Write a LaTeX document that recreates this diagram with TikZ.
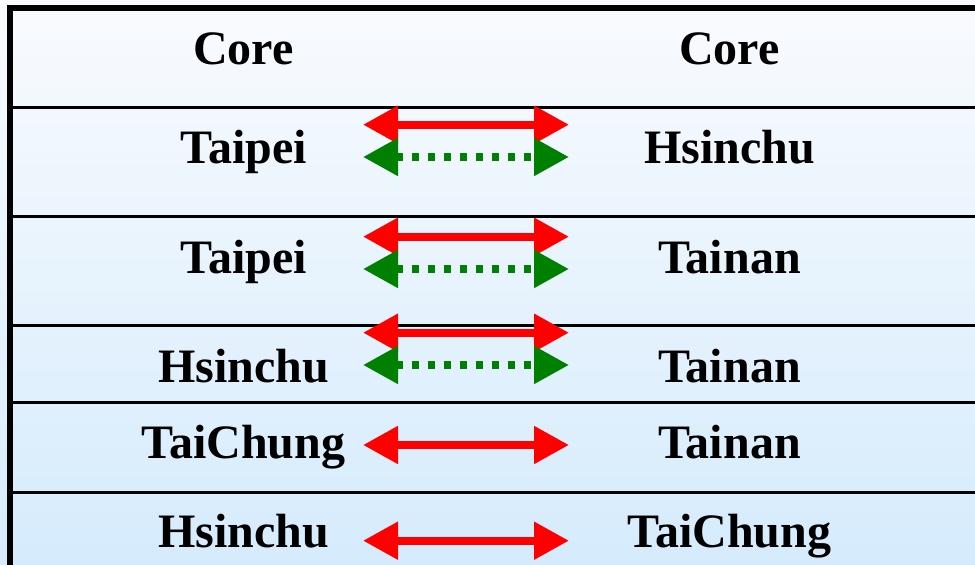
\documentclass[tikz,border=0pt]{standalone}
\usepackage{fontspec}
\setmainfont{Liberation Serif}
\usetikzlibrary{arrows.meta}
\definecolor{toptint}{RGB}{249,251,254}
\definecolor{bottint}{RGB}{213,235,252}
\definecolor{backupgreen}{RGB}{0,128,0}
\begin{document}
\begin{tikzpicture}[x=1pt,y=-1pt,
  site/.style={anchor=base,inner sep=0pt,font=\fontsize{48}{52}\selectfont\bfseries},
  primary/.style={red,line width=8pt,{Triangle[length=35pt,width=36pt]}-{Triangle[length=35pt,width=36pt]}},
  backup/.style={backupgreen,line width=8pt,dash pattern=on 7pt off 9pt,{Triangle[length=35pt,width=36pt]}-{Triangle[length=35pt,width=36pt]}}]
\useasboundingbox (0,0) rectangle (975,565);
\shade[top color=toptint,bottom color=bottint] (0,0) rectangle (975,565);
\pgfmathsetmacro{\xl}{243.5}
\pgfmathsetmacro{\xr}{729.5}
% frame and row rules
\draw[line width=6pt] (10.3,565)--(10.3,8)--(975,8);
\foreach \y in {107.7,216,325,402,492}
  \draw[line width=3pt] (13,\y)--(975,\y);
% sites
\node[site] (l0) at (\xl,64) {Core};
\node[site] (r0) at (\xr,64) {Core};
\node[site] (l1) at (\xl,163) {Taipei};
\node[site] (r1) at (\xr,163) {Hsinchu};
\node[site] (l2) at (\xl,273) {Taipei};
\node[site] (r2) at (\xr,273) {Tainan};
\node[site] (l3) at (\xl,382) {Hsinchu};
\node[site] (r3) at (\xr,382) {Tainan};
\node[site] (l4) at (\xl,458) {TaiChung};
\node[site] (r4) at (\xr,458) {Tainan};
\node[site] (l5) at (\xl,547) {Hsinchu};
\node[site] (r5) at (\xr,547) {TaiChung};
% link ends
\coordinate (p1a) at (363,124.7); \coordinate (p1b) at (569,124.7);
\coordinate (b1a) at (363,157);   \coordinate (b1b) at (569,157);
\coordinate (p2a) at (363,236.7); \coordinate (p2b) at (569,236.7);
\coordinate (b2a) at (363,269);   \coordinate (b2b) at (569,269);
\coordinate (p3a) at (363,332.7); \coordinate (p3b) at (569,332.7);
\coordinate (b3a) at (363,365);   \coordinate (b3b) at (569,365);
\coordinate (p4a) at (363,445);   \coordinate (p4b) at (569,445);
\coordinate (p5a) at (363,540.7); \coordinate (p5b) at (569,540.7);
%
\draw[primary](p1a)--(p1b);
\draw[backup](b1a)--(b1b);
\draw[primary](p2a)--(p2b);
\draw[backup](b2a)--(b2b);
\draw[primary](p3a)--(p3b);
\draw[backup](b3a)--(b3b);
\draw[primary](p4a)--(p4b);
\draw[primary](p5a)--(p5b);
\end{tikzpicture}
\end{document}
